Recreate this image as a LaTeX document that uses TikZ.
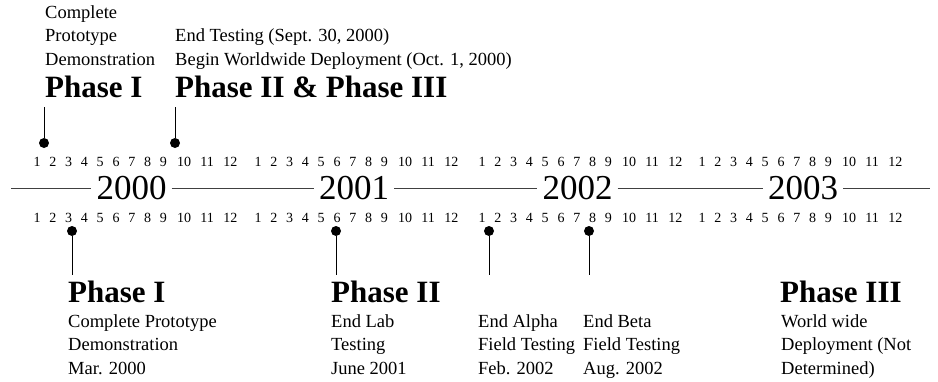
\documentclass[tikz,border=0pt]{standalone}
\usepackage{fontspec}
\setmainfont{Liberation Serif}
\usepackage{tikz}

\tikzset{
  txt/.style={font=\fontsize{18.5}{23.4}\selectfont,align=left,inner sep=0pt,anchor=base west},
  phase/.style={font=\fontsize{31}{36}\selectfont\bfseries,inner sep=0pt,anchor=base west},
  month/.style={font=\fontsize{14}{16}\selectfont,inner sep=0pt,anchor=base},
  yearlbl/.style={font=\fontsize{35}{40}\selectfont,inner sep=5pt},
  dot/.style={circle,fill=black,inner sep=0pt,minimum size=10pt},
  tick/.style={line width=0.8pt}
}

\begin{document}
\begin{tikzpicture}[x=1pt,y=-1pt]
\useasboundingbox (0,0) rectangle (938,381);
% timeline with years and months
\coordinate (s0) at (11,188);\coordinate (s1) at (930,188);
\foreach \yr/\cx/\mx in {2000/131.5/37,2001/354/258,2002/577.5/482,2003/803/702}{
\node[yearlbl] (y\yr) at (\cx,188) {\yr};
\foreach \m in {1,...,12}{\pgfmathsetmacro{\dx}{\m<10 ? (\m-1)*15.8 : 147+(\m-10)*23.2}
\node[month] (mt\yr-\m) at (\mx+\dx,166) {\m};\node[month] (mb\yr-\m) at (\mx+\dx,222) {\m};}
}
\draw[line width=0.8pt,black!75] (s0)--(y2000) (y2000)--(y2001) (y2001)--(y2002) (y2002)--(y2003) (y2003)--(s1);
% above the line
\node[txt] (topa) at (45,65) {Complete\\Prototype\\Demonstration};
\node[txt] (topb) at (175,65) {End Testing (Sept. 30, 2000)\\Begin Worldwide Deployment (Oct. 1, 2000)};
\node[phase] (ptopa) at (45,97) {Phase I};
\node[phase] (ptopb) at (175,97) {Phase II \& Phase III};
\node[dot] (da) at (44,143) {};\coordinate (ca) at (44,107);
\node[dot] (db) at (175,143) {};\coordinate (cb) at (175,107);
\draw[tick] (ca)--(da);\draw[tick] (cb)--(db);
% below the line
\foreach \n/\x in {c/72,d/336,e/489,f/589}{\node[dot] (d\n) at (\x,231) {};\coordinate (c\n) at (\x,275);\draw[tick] (d\n)--(c\n);}
\node[phase] (pbota) at (68,302) {Phase I};
\node[phase] (pbotb) at (331,302) {Phase II};
\node[phase] (pbotc) at (780,302) {Phase III};
\node[txt] (bota) at (68,374) {Complete Prototype\\Demonstration\\Mar. 2000};
\node[txt] (botb) at (331,374) {End Lab\\Testing\\June 2001};
\node[txt] (botc) at (478,374) {End Alpha\\Field Testing\\Feb. 2002};
\node[txt] (botd) at (583,374) {End Beta\\Field Testing\\Aug. 2002};
\node[txt] (bote) at (781,374) {World wide\\Deployment (Not\\Determined)};
\end{tikzpicture}
\end{document}
